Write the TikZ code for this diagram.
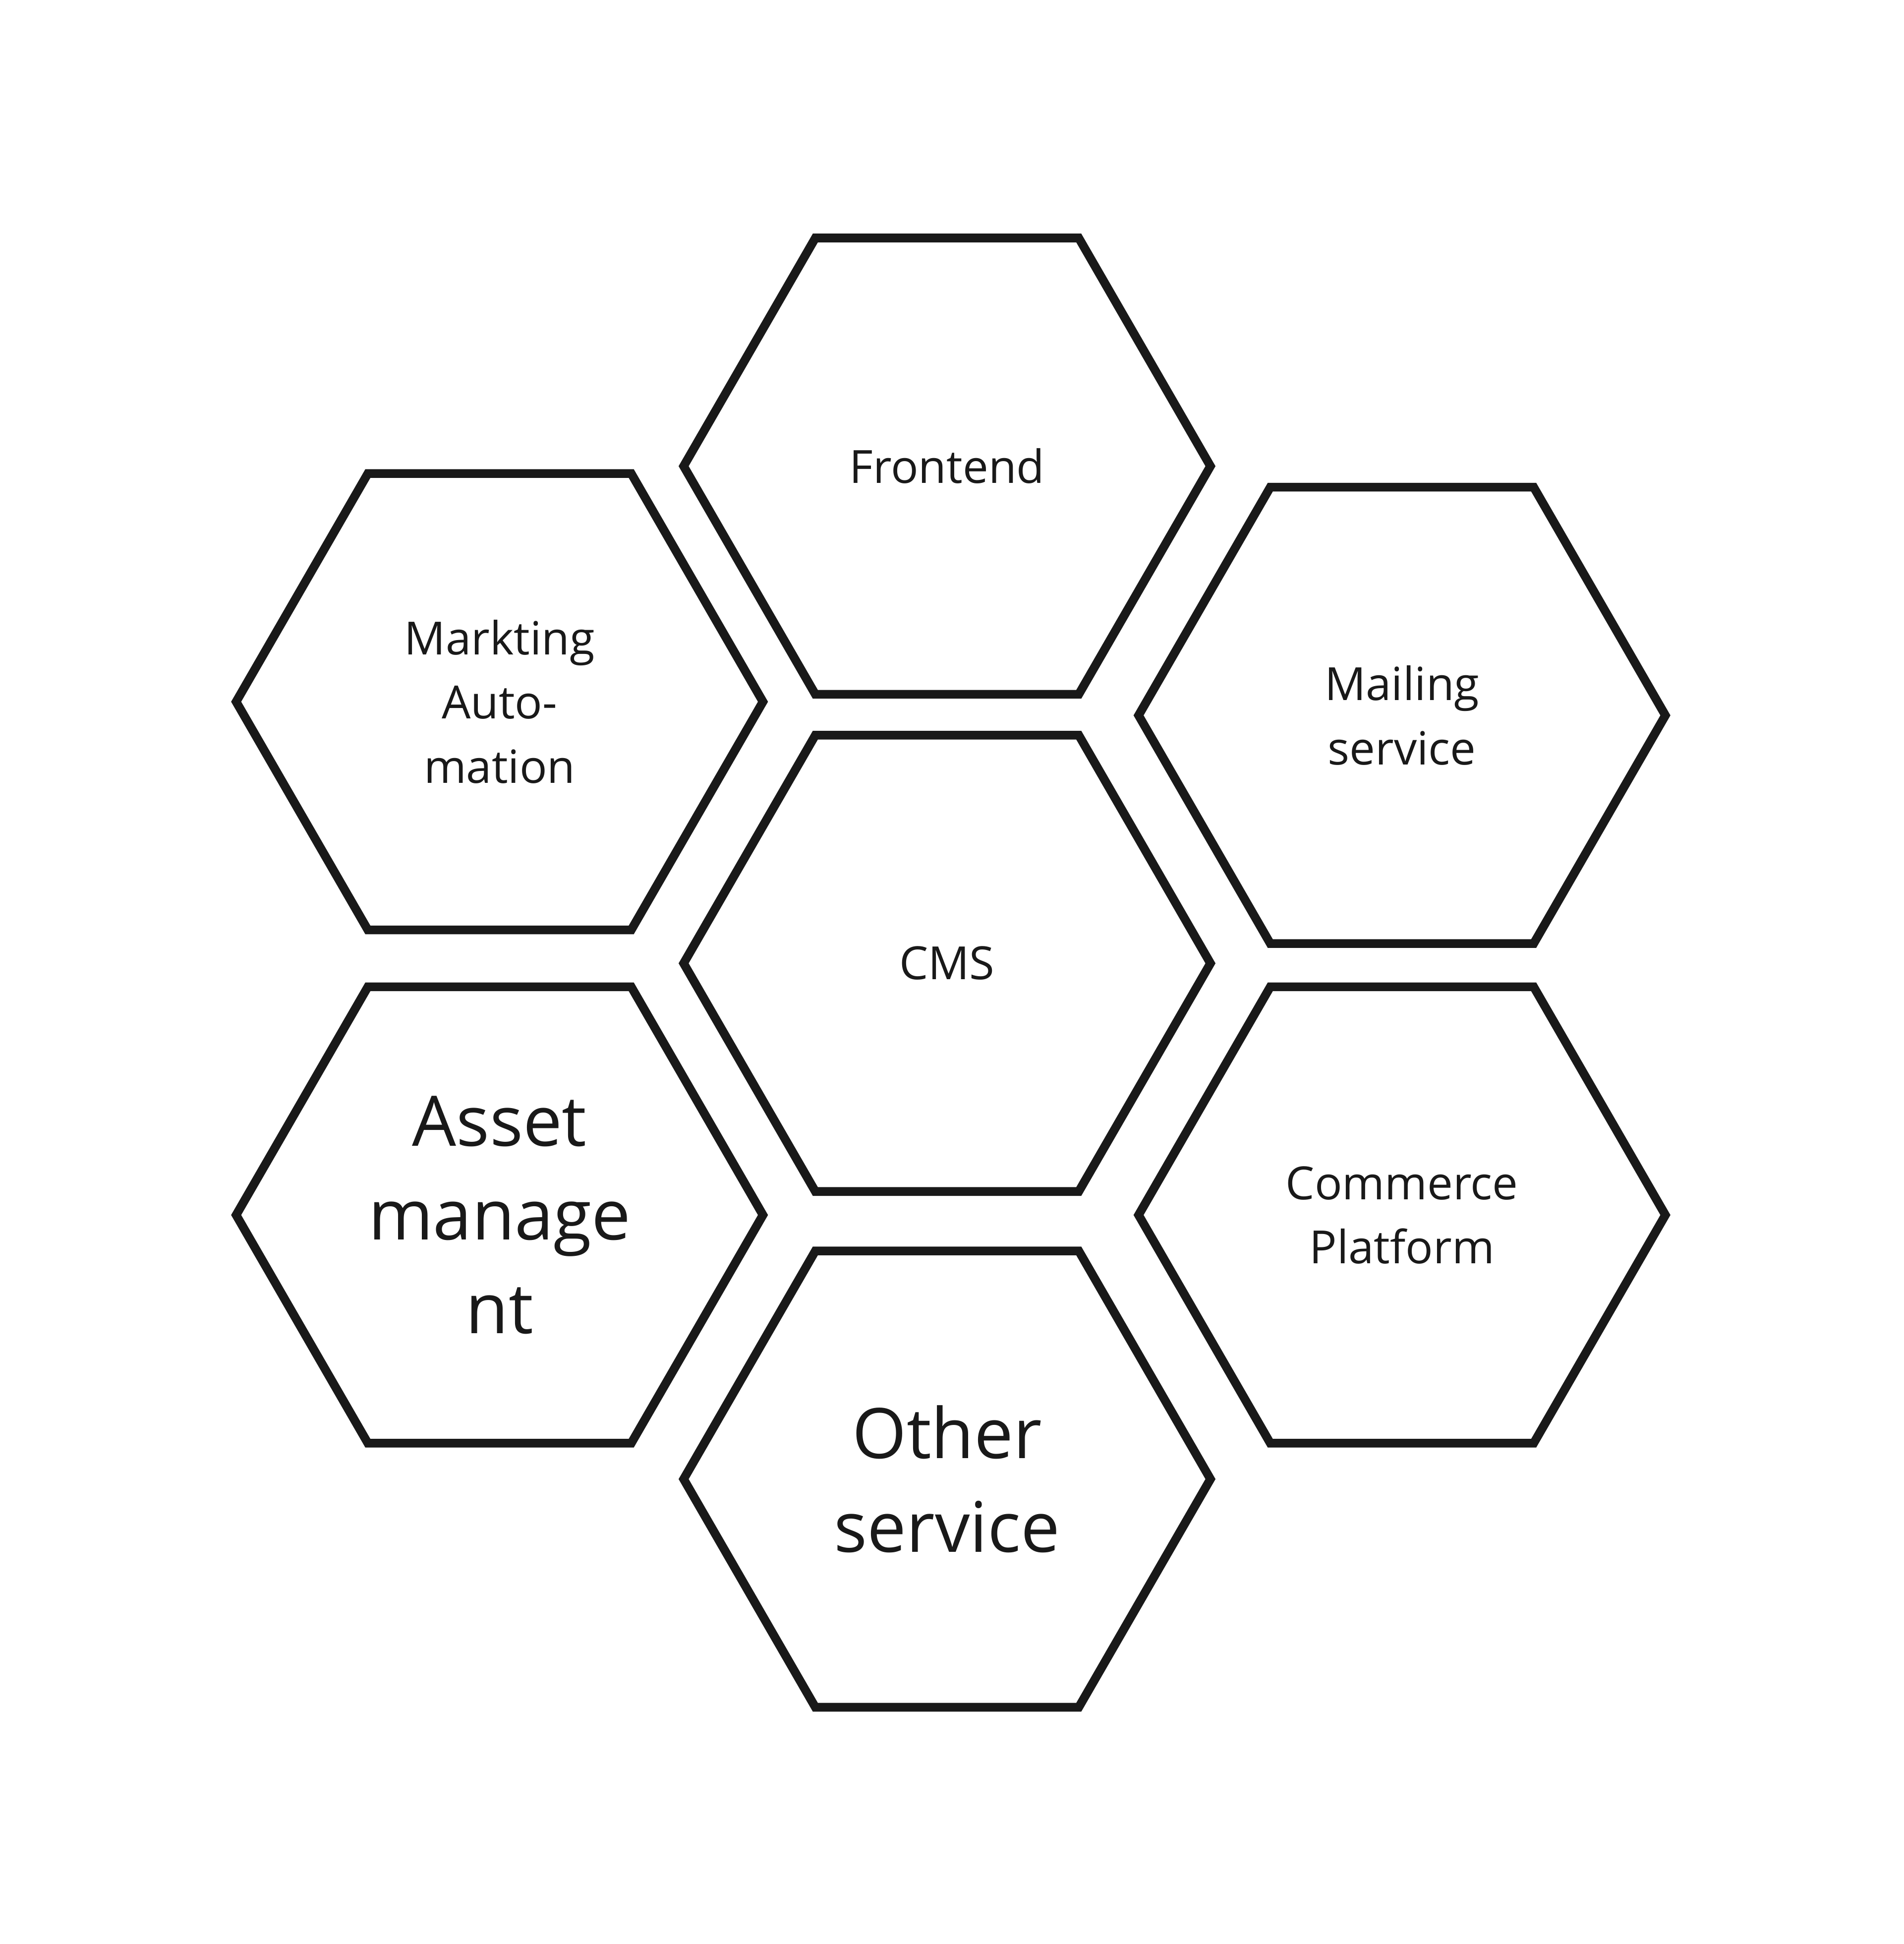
\documentclass[tikz,border=0pt]{standalone}
\usepackage{fontspec}
\setmainfont{Open Sans}
\usetikzlibrary{shapes.geometric}
\tikzset{
  hexa/.style={regular polygon, regular polygon sides=6, minimum size=4.25cm, draw=black!90, line width=2pt, align=center, font=\fontsize{10.5pt}{14.7pt}\selectfont, text=black!90},
  hexabig/.style={hexa, font=\fontsize{16pt}{21.5pt}\selectfont}
}
\begin{document}
\begin{tikzpicture}
    \useasboundingbox (0,0) rectangle (15.36,-15.68);
    \node[hexa] (cms) at (7.64,-7.77) {CMS};
    \node[hexa] (frontend) at (7.64,-3.76) {Frontend};
    \node[hexa] (marketing) at (4.03,-5.66) {Markting\\Auto-\\mation};
    \node[hexa] (mailing) at (11.31,-5.77) {Mailing\\service};
    \node[hexabig] (asset) at (4.03,-9.80) {Asset\\manage\\nt};
    \node[hexa] (commerce) at (11.31,-9.80) {Commerce\\Platform};
    \node[hexabig] (other) at (7.64,-11.93) {Other\\service};
\end{tikzpicture}
\end{document}
